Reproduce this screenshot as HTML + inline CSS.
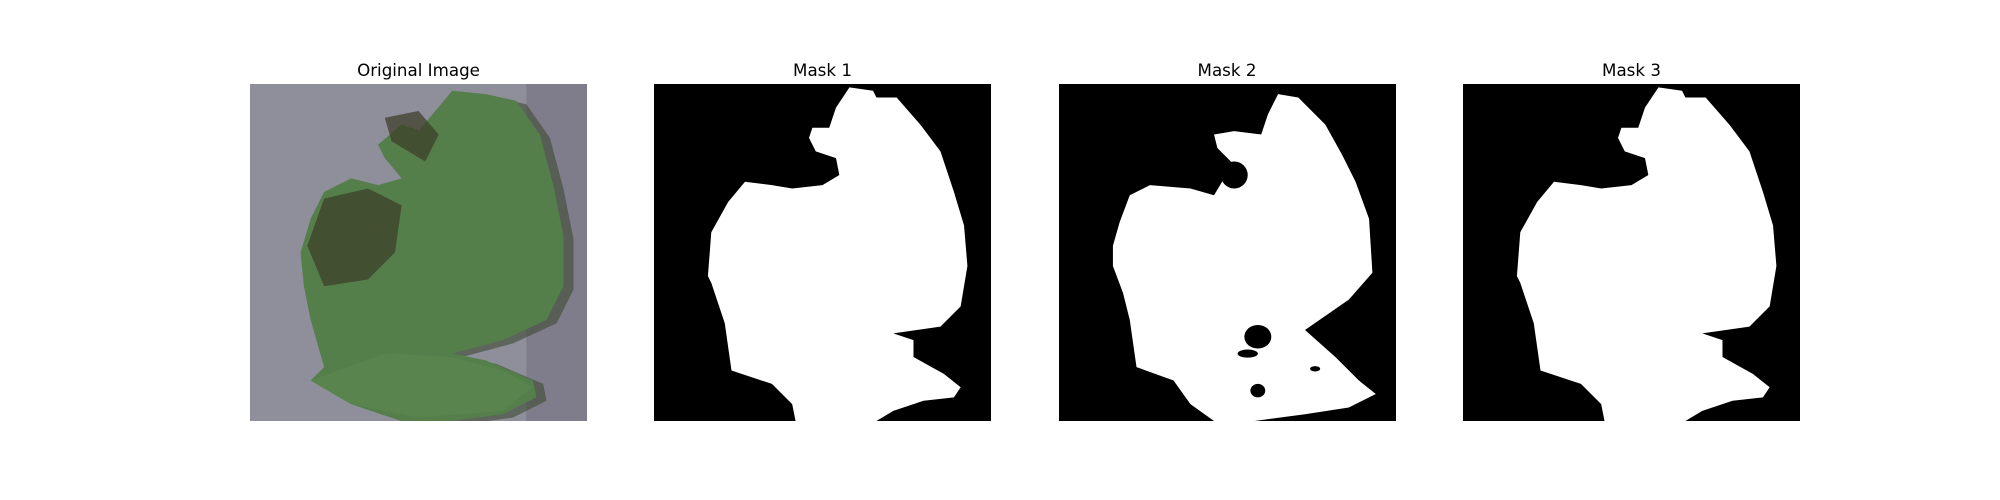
<!DOCTYPE html>
<html><head><meta charset="utf-8"><style>
html,body{margin:0;padding:0;background:#fff;}
svg{display:block;}
text{font-family:"DejaVu Sans","Liberation Sans",sans-serif;font-size:16.7px;fill:#000;}
</style></head><body>
<svg width="2000" height="500" viewBox="0 0 2000 500">
<defs>
<clipPath id="unit" clipPathUnits="userSpaceOnUse"><rect width="1" height="1"/></clipPath>
<path id="m1" d="M.58,.01 L.65,.02 .66,.04 .72,.04 .79,.12 .85,.20 .89,.32 .92,.42 .93,.54 .91,.66 .85,.72 .71,.74 .77,.76 .77,.81 .86,.86 .91,.90 .89,.93 .80,.94 .71,.97 .66,1 .42,1 .41,.95 .35,.89 .23,.85 .21,.71 .17,.59 .16,.57 .17,.44 .22,.35 .27,.29 .35,.30 .41,.31 .50,.30 .55,.27 .54,.22 .48,.20 .46,.16 .47,.13 .52,.13 .54,.07 Z"/>
<path id="m2" d="M.65,.03 L.71,.04 .79,.12 .84,.21 .88,.29 .92,.40 .93,.56 .86,.64 .73,.73 .82,.81 .89,.88 .94,.92 .86,.96 .73,.98 .58,1 .46,1 .39,.95 .34,.88 .23,.84 .21,.70 .19,.62 .16,.54 .16,.48 .18,.41 .21,.33 .27,.30 .39,.31 .46,.33 .49,.28 .51,.23 .47,.19 .46,.15 .52,.14 .60,.15 .62,.09 Z"/>
<path id="leaf" d="M.79,.05 L.86,.15 .90,.30 .93,.45 .93,.60 .88,.70 .75,.76 .60,.80 .70,.82 .84,.88 .85,.93 .75,.98 .60,1 .45,1 .30,.95 .18,.88 .22,.84 .18,.70 .16,.60 .15,.50 .18,.40 .22,.32 .30,.28 .38,.30 .45,.28 .40,.22 .38,.18 .45,.12 .50,.14 .60,.02 .70,.03 Z"/>
</defs>
<g>
<text x="418.5" y="76" text-anchor="middle">Original Image</text>
<g transform="translate(250,84) scale(337)">
<g clip-path="url(#unit)">
<rect width="1" height="1" fill="#8f8e9b"/>
<rect x=".82" width=".18" height="1" fill="#747280" opacity=".6"/>
<use href="#leaf" fill="#3e4a34" transform="translate(.03,.01)" opacity=".6"/>
<use href="#leaf" fill="#547f4b"/>
<path d="M.22,.34 L.35,.31 .45,.36 .43,.50 .35,.58 .22,.60 .17,.48 Z" fill="#3b3b25" opacity=".7"/>
<path d="M.40,.10 L.50,.08 .56,.15 .52,.23 .42,.17 Z" fill="#3b3a25" opacity=".7"/>
<path d="M.18,.88 L.40,.80 .60,.81 .75,.85 .84,.90 .75,.97 .50,.99 .30,.95 Z" fill="#5a844e"/>
</g>
</g>
</g>
<g>
<text x="822.5" y="76" text-anchor="middle">Mask 1</text>
<g transform="translate(654,84) scale(337)">
<rect width="1" height="1" fill="#000"/>
<use href="#m1" fill="#fff"/>
</g>
</g>
<g>
<text x="1227" y="76" text-anchor="middle">Mask 2</text>
<g transform="translate(1059,84) scale(337)">
<rect width="1" height="1" fill="#000"/>
<use href="#m2" fill="#fff"/>
<ellipse cx=".59" cy=".75" rx=".04" ry=".035" fill="#000"/>
<ellipse cx=".56" cy=".80" rx=".03" ry=".012" fill="#000"/>
<ellipse cx=".59" cy=".91" rx=".022" ry=".02" fill="#000"/>
<ellipse cx=".76" cy=".845" rx=".015" ry=".008" fill="#000"/>
<ellipse cx=".52" cy=".27" rx=".04" ry=".04" fill="#000"/>
</g>
</g>
<g>
<text x="1631.5" y="76" text-anchor="middle">Mask 3</text>
<g transform="translate(1463,84) scale(337)">
<rect width="1" height="1" fill="#000"/>
<use href="#m1" fill="#fff"/>
</g>
</g>
</svg>
</body></html>
